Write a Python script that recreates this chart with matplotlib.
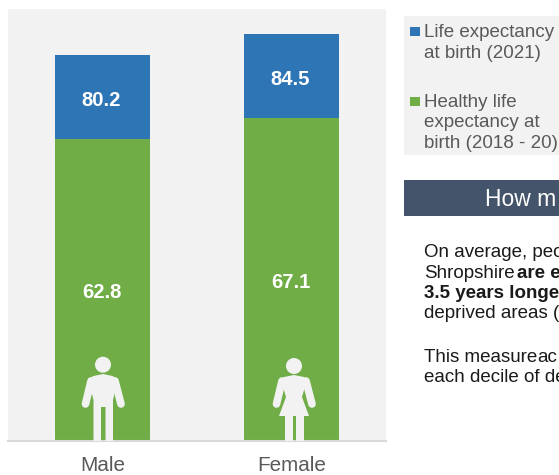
import matplotlib
matplotlib.use("Agg")
import matplotlib.pyplot as plt
from matplotlib.patches import Rectangle, Circle, Polygon
from matplotlib.lines import Line2D
from matplotlib.transforms import Affine2D, ScaledTranslation

categories = ["Male", "Female"]
life_expectancy = [80.2, 84.5]
healthy_life_expectancy = [62.8, 67.1]
legend_life = ["Life expectancy", "at birth (2021)"]
legend_healthy = ["Healthy life", "expectancy at", "birth (2018 - 20)"]

BLUE, GREEN = "#2E75B6", "#70AD47"
BG, HEADER = "#F2F2F2", "#44546A"
W, H = 559, 475
plt.rcParams["font.family"] = ["Liberation Sans", "DejaVu Sans"]

fig = plt.figure(figsize=(W / 100, H / 100), dpi=100, facecolor="white")
px = Affine2D().scale(1, -1).translate(0, H)  # reference pixel coords -> figure pixels

ax = fig.add_axes([8 / W, 1 - 441 / H, 378 / W, 432 / H], facecolor=BG)
x = range(len(categories))
ax.bar(x, life_expectancy, width=0.5, color=BLUE, zorder=2)
ax.bar(x, healthy_life_expectancy, width=0.5, color=GREEN, zorder=3)
ax.set_xlim(-0.5, 1.5)
ax.set_ylim(0, 89.8)
ax.set_yticks([])
ax.set_xticks(list(x), categories, fontsize=14.9, color="#595959")
ax.tick_params(axis="x", length=0, pad=10.5)
for s in ("top", "left", "right"):
    ax.spines[s].set_visible(False)
ax.spines["bottom"].set_color("#D9D9D9")
ax.spines["bottom"].set_linewidth(1.5)
ax.spines["bottom"].set_zorder(5)

shift = ax.transData + ScaledTranslation(-1 / 100, -3 / 100, fig.dpi_scale_trans)
for i in x:
    ax.text(i, (life_expectancy[i] + healthy_life_expectancy[i]) / 2, f"{life_expectancy[i]}",
            ha="center", va="center", color="white", fontsize=14.6, fontweight="bold", zorder=6,
            transform=shift)
    ax.text(i, healthy_life_expectancy[i] / 2, f"{healthy_life_expectancy[i]}",
            ha="center", va="center", color="white", fontsize=14.6, fontweight="bold", zorder=6,
            transform=shift)


def add(p):
    p.set_transform(px)
    fig.add_artist(p)
    return p


def limb(xs, ys, lw, cap="round"):
    add(Line2D(xs, ys, color=BG, lw=lw, solid_capstyle=cap))


# Male icon
cx = 103
add(Circle((cx, 364.7), 8, facecolor=BG, edgecolor="none"))
add(Polygon([(93.5, 376), (cx, 374), (112.5, 376), (118, 379), (113, 400), (113, 441),
             (105.5, 441), (105.5, 407), (101, 407), (101, 441), (93.5, 441), (93.5, 400), (88, 379)],
            closed=True, facecolor=BG, edgecolor="none"))
limb([91, 85.5], [381, 404], 5.5)
limb([115, 121], [381, 404], 5.5)

# Female icon
cx = 294
add(Circle((cx, 366), 8, facecolor=BG, edgecolor="none"))
add(Polygon([(284, 377), (cx, 375), (304, 377), (307, 380), (302, 397), (309, 416), (279, 416),
             (286, 397), (281, 380)], closed=True, facecolor=BG, edgecolor="none"))
add(Rectangle((284.5, 416), 8, 25, facecolor=BG, edgecolor="none"))
add(Rectangle((296, 416), 8, 25, facecolor=BG, edgecolor="none"))
limb([282, 276.5], [381, 404], 5.5)
limb([306, 312], [381, 404], 5.5)

# Legend panel
add(Rectangle((404, 16), 155, 139, facecolor=BG, edgecolor="none"))
add(Rectangle((410, 27), 10, 9, facecolor=BLUE, edgecolor="none"))
add(Rectangle((410, 97), 10, 9, facecolor=GREEN, edgecolor="none"))


def t(xp, yp, s, **kw):
    kw.setdefault("fontsize", 13.5)
    kw.setdefault("color", "#595959")
    fig.text(xp / W, 1 - yp / H, s, va="baseline", ha="left", **kw)


for yp, s in zip([37, 58], legend_life):
    t(424, yp, s)
for yp, s in zip([107, 127, 148], legend_healthy):
    t(424, yp, s)

# Header band
add(Rectangle((404, 180), 155, 36, facecolor=HEADER, edgecolor="none"))
t(485, 206, "How m", color="white", fontsize=16.5)

# Body text (cut by the figure edge, as in the reference)
DARK = "#1A1A1A"
t(424, 257, "On average, peo", color=DARK)
t(424, 278, "Shropshire", color=DARK)
t(517, 278, "are e", color=DARK, fontweight="bold")
t(424, 298, "3.5 years longer", color=DARK, fontweight="bold")
t(424, 318, "deprived areas (", color=DARK)
t(424, 362, "This measure", color=DARK)
t(537, 362, "ac", color=DARK)
t(424, 382, "each decile of de", color=DARK)

fig.savefig("out.png", dpi=100)
